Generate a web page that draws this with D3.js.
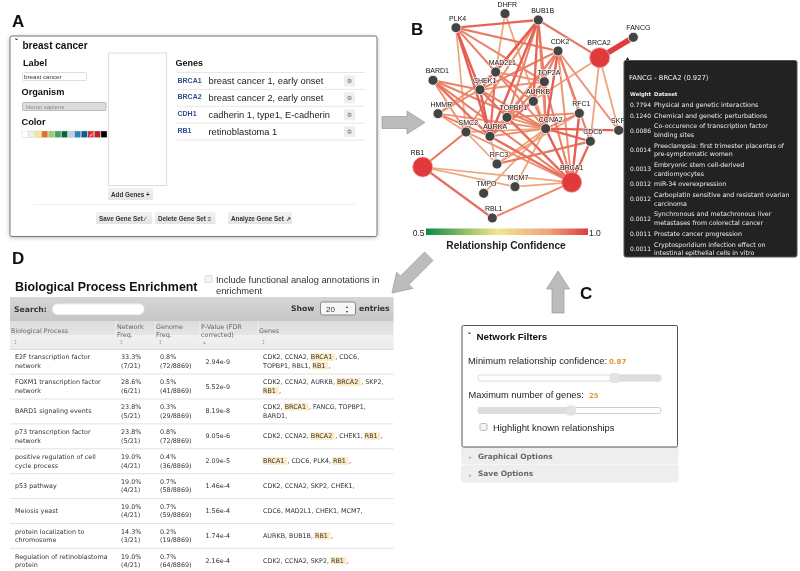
<!DOCTYPE html>
<html>
<head>
<meta charset="utf-8">
<script src="https://cdn.jsdelivr.net/npm/d3@7"></script>
<style>
  html, body { margin: 0; padding: 0; background: #fff; }
  svg { display: block; filter: blur(0.3px); }
  text { font-family: "Liberation Sans", Arial, sans-serif; fill: #111; }
</style>
</head>
<body>
<svg id="fig" width="800" height="571"></svg>
<script>
// ---- data ----
const geneNames = ["PLK4","DHFR","BUB1B","FANCG","CDK2","BRCA2","MAD2L1","TOP2A","BARD1","CHEK1","AURKB","HMMR","TOPBP1","RFC1","SMC2","AURKA","CCNA2","SKP2","CDC6","RFC3","RB1","BRCA1","MCM7","TMPO","RBL1"];
// network layout position of each gene, in layout units
const geneX = [168,315,415,700,474,599,287,433,99,240,400,114,321,538,198,270,437,656,571,291,68,515,345,251,277];
const geneY = [83,41,60,112,153,173,216,245,241,269,304,341,352,340,396,409,386,391,424,492,501,547,560,580,654];
const labelShift = [5,7,13,15,6,-2,20,14,13,14,14,10,19,6,7,15,15,4,7,6,-16,0,9,8,4];
const queryGenes = ["BRCA1","BRCA2","RB1"];

// source, target, confidence
const edges = [
  ["PLK4","BUB1B",.95],["PLK4","CDK2",.93],["PLK4","CHEK1",.96],["PLK4","AURKA",.96],["PLK4","SMC2",.87],["PLK4","TOP2A",.91],["PLK4","MAD2L1",.92],
  ["DHFR","MAD2L1",.87],["DHFR","CCNA2",.88],
  ["BUB1B","BRCA2",.93],["BUB1B","CHEK1",.94],["BUB1B","AURKA",.96],["BUB1B","MAD2L1",.96],["BUB1B","AURKB",.95],["BUB1B","TOP2A",.93],["BUB1B","SMC2",.9],["BUB1B","TOPBP1",.92],["BUB1B","CCNA2",.9],
  ["CDK2","CHEK1",.92],["CDK2","TOPBP1",.92],["CDK2","CCNA2",.96],["CDK2","RFC1",.92],["CDK2","CDC6",.92],["CDK2","BRCA1",.9],["CDK2","AURKA",.9],["CDK2","SKP2",.9],["CDK2","AURKB",.92],
  ["BRCA2","FANCG",1.0],["BRCA2","SKP2",.88],["BRCA2","CDC6",.88],["BRCA2","TOPBP1",.88],
  ["BARD1","AURKA",.94],["BARD1","CCNA2",.92],["BARD1","CHEK1",.92],["BARD1","SMC2",.9],["BARD1","BRCA1",.92],
  ["HMMR","CHEK1",.9],["HMMR","AURKA",.92],["HMMR","MAD2L1",.9],["HMMR","SMC2",.88],["HMMR","CCNA2",.9],
  ["RB1","SMC2",.93],["RB1","RBL1",.94],["RB1","MCM7",.88],["RB1","BRCA1",.87],
  ["RBL1","BRCA1",.91],["TMPO","CCNA2",.88],["MCM7","BRCA1",.87],["MCM7","CCNA2",.88],
  ["RFC3","CDC6",.93],["RFC3","CCNA2",.88],["RFC3","AURKA",.88],["SMC2","RFC3",.88],["RFC3","RFC1",.88],
  ["BRCA1","CCNA2",.96],["BRCA1","CDC6",.95],["BRCA1","RFC1",.96],["BRCA1","AURKA",.94],["BRCA1","CHEK1",.94],["BRCA1","TOP2A",.92],["BRCA1","TOPBP1",.92],["BRCA1","SMC2",.9],
  ["CCNA2","SKP2",.96],["CCNA2","RFC1",.92],["CCNA2","CDC6",.95],["CCNA2","AURKA",.9],["CCNA2","SMC2",.88],["CCNA2","TOPBP1",.9],["CCNA2","TOP2A",.92],["CCNA2","AURKB",.92],
  ["TOPBP1","RFC1",.91],["TOPBP1","AURKA",.9],["MAD2L1","AURKA",.94],["MAD2L1","CCNA2",.91],["MAD2L1","TOP2A",.9],["MAD2L1","AURKB",.92],
  ["AURKB","AURKA",.94],["CHEK1","AURKA",.96],["CHEK1","CCNA2",.92],["CHEK1","TOP2A",.9],["TOP2A","AURKA",.92]
];

const confidenceStops = [0.5, 0.62, 0.72, 0.88, 1.0];
const confidenceColors = ["#078a4c", "#8fbf63", "#f1e68d", "#f0a27a", "#de3c3e"];

const tooltipTitle = "FANCG - BRCA2 (0.927)";
const tooltipWeights = ["0.7794","0.1240","0.0086","0.0014","0.0013","0.0012","0.0012","0.0012","0.0011","0.0011"];
const tooltipDatasets = [
  ["Physical and genetic interactions"],
  ["Chemical and genetic perturbations"],
  ["Co-occurence of transcription factor","binding sites"],
  ["Preeclampsia: first trimester placentas of","pre-symptomatic women"],
  ["Embryonic stem cell-derived","cardiomyocytes"],
  ["miR-34 overexpression"],
  ["Carboplatin sensitive and resistant ovarian","carcinoma"],
  ["Synchronous and metachronous liver","metastases from colorectal cancer"],
  ["Prostate cancer progression"],
  ["Cryptosporidium infection effect on","intestinal epithelial cells in vitro"]
];

const inputGeneSymbols = ["BRCA1","BRCA2","CDH1","RB1"];
const inputGeneNames = ["breast cancer 1, early onset","breast cancer 2, early onset","cadherin 1, type1, E-cadherin","retinoblastoma 1"];
const swatchColors = ["#ffffff","#eeeeee","#f2e88e","#e0702e","#a9c377","#41a262","#06683a","#b5d2e8","#2b83ba","#115a99","#d93036","#b9222c","#000000"];

const columnNames = [["Biological Process"],["Network","Freq."],["Genome","Freq."],["P-Value (FDR","corrected)"],["Genes"]];
const processNames = [
  ["E2F transcription factor","network"],["FOXM1 transcription factor","network"],["BARD1 signaling events"],
  ["p73 transcription factor","network"],["positive regulation of cell","cycle process"],["p53 pathway"],
  ["Meiosis yeast"],["protein localization to","chromosome"],["Regulation of retinoblastoma","protein"]];
const networkFreq = [["33.3%","(7/21)"],["28.6%","(6/21)"],["23.8%","(5/21)"],["23.8%","(5/21)"],["19.0%","(4/21)"],["19.0%","(4/21)"],["19.0%","(4/21)"],["14.3%","(3/21)"],["19.0%","(4/21)"]];
const genomeFreq = [["0.8%","(72/8869)"],["0.5%","(41/8869)"],["0.3%","(29/8869)"],["0.8%","(72/8869)"],["0.4%","(36/8869)"],["0.7%","(58/8869)"],["0.7%","(59/8869)"],["0.2%","(19/8869)"],["0.7%","(64/8869)"]];
const pValues = ["2.94e-9","5.52e-9","8.19e-8","9.05e-6","2.09e-5","1.46e-4","1.56e-4","1.74e-4","2.16e-4"];
const rowGenes = [
  [["CDK2","CCNA2","BRCA1","CDC6"],["TOPBP1","RBL1","RB1"]],
  [["CDK2","CCNA2","AURKB","BRCA2","SKP2"],["RB1"]],
  [["CDK2","BRCA1","FANCG","TOPBP1"],["BARD1"]],
  [["CDK2","CCNA2","BRCA2","CHEK1","RB1"]],
  [["BRCA1","CDC6","PLK4","RB1"]],
  [["CDK2","CCNA2","SKP2","CHEK1"]],
  [["CDC6","MAD2L1","CHEK1","MCM7"]],
  [["AURKB","BUB1B","RB1"]],
  [["CDK2","CCNA2","SKP2","RB1"]]
];

const minConfidence = 0.87;
const maxGenes = 25;

// ---- setup ----
const svg = d3.select("#fig");
const defs = svg.append("defs");

function addGradient(id, stops) {
  const g = defs.append("linearGradient").attr("id", id)
    .attr("x1", 0).attr("y1", 0).attr("x2", 0).attr("y2", 1);
  stops.forEach(s => g.append("stop").attr("offset", s[0]).attr("stop-color", s[1]));
}
addGradient("toolbar", [[0, "#d6d6d6"], [1, "#c6c6c6"]]);
addGradient("head", [[0, "#dcdcdc"], [.5, "#e6e6e6"], [.5, "#f1f1f1"], [1, "#ececec"]]);
addGradient("btn", [[0, "#f2f2f2"], [1, "#e4e4e4"]]);

const shadow = defs.append("filter").attr("id", "shadow")
  .attr("x", "-5%").attr("y", "-5%").attr("width", "110%").attr("height", "112%");
shadow.append("feDropShadow").attr("dx", 0).attr("dy", 1).attr("stdDeviation", 2).attr("flood-color", "#000").attr("flood-opacity", .25);

function rect(parent, x, y, w, h, fill, stroke, r) {
  return parent.append("rect").attr("x", x).attr("y", y).attr("width", w).attr("height", h)
    .attr("fill", fill).attr("stroke", stroke || "none").attr("rx", r || 0);
}
function text(parent, x, y, s, size, opts) {
  opts = opts || {};
  return parent.append("text").attr("x", x).attr("y", y).text(s)
    .attr("font-size", size)
    .attr("font-weight", opts.bold ? "bold" : null)
    .attr("text-anchor", opts.anchor || "start")
    .style("fill", opts.fill || null)
    .style("font-family", opts.verd ? '"DejaVu Sans", sans-serif' : null);
}
function hline(parent, x1, x2, y, color) {
  parent.append("line").attr("x1", x1).attr("x2", x2).attr("y1", y).attr("y2", y).attr("stroke", color);
}
function arrow(tipX, tipY, angle, length) {
  // block arrow pointing along +x, tip at the origin
  const pts = [[0,0],[-18,-11.5],[-18,-6],[-length,-6],[-length,6],[-18,6],[-18,11.5]];
  svg.append("polygon").attr("points", pts.join(" "))
    .attr("transform", `translate(${tipX},${tipY}) rotate(${angle})`)
    .attr("fill", "#bcbcbc").attr("stroke", "#9a9a9a").attr("stroke-width", .7);
}

// panel letters and arrows
[["A",12,27],["B",411,35],["C",580,299],["D",12,264]].forEach(d =>
  text(svg, d[1], d[2], d[0], 17, {bold: true}));
arrow(425, 122.5, 0, 43);
arrow(558, 271, -90, 42);
arrow(392, 293, 135, 52);

// ---- A: gene set editor ----
function drawPanelA() {
  const g = svg.append("g");
  rect(g, 10, 36, 367, 200.5, "#fff", "#777", 2).attr("stroke-width", 1).attr("filter", "url(#shadow)");
  text(g, 15, 43.5, "\u02C7", 8, {bold: true});
  text(g, 22.5, 49, "breast cancer", 10, {bold: true});
  text(g, 23, 66, "Label", 9.2, {bold: true});
  rect(g, 22.5, 72.5, 64, 8, "#fff", "#ddd", 1);
  text(g, 24, 79, "breast cancer", 6.2, {fill: "#333"});
  text(g, 21.5, 95, "Organism", 9.2, {bold: true});
  rect(g, 22.5, 102.5, 83.5, 8, "#dcdcdc", "#bbb", 1);
  text(g, 26, 108.5, "Homo sapiens", 6, {fill: "#888"});
  text(g, 21.5, 125, "Color", 9.2, {bold: true});
  const swatch = d3.scaleBand().domain(d3.range(swatchColors.length)).range([22, 107]).paddingInner(.08);
  g.selectAll(".swatch").data(swatchColors).enter().append("rect").attr("class", "swatch")
    .attr("x", (d, i) => swatch(i)).attr("y", 131).attr("width", swatch.bandwidth()).attr("height", 6.5)
    .attr("fill", d => d).attr("stroke", "#ccc").attr("stroke-width", .4);
  text(g, swatch(10) + 1, 137, "\u2713", 5.5, {fill: "#fff"});

  rect(g, 108.5, 53, 58, 132.5, "#fff", "#ddd");
  rect(g, 108, 188, 45, 12, "url(#btn)");
  text(g, 111, 196.5, "Add Genes +", 6.3, {bold: true, fill: "#333"});

  text(g, 175.5, 66, "Genes", 9, {bold: true});
  const rowY = d3.scalePoint().domain(d3.range(inputGeneSymbols.length + 1)).range([72.5, 140]);
  rowY.domain().forEach(i => hline(g, 177, 365, rowY(i), "#e6e6e6"));
  inputGeneSymbols.forEach((s, i) => {
    const mid = rowY(i) + 8.5;
    text(g, 177.5, mid + 1.5 , s, 7, {bold: true, fill: "#2f4d8f"});
    text(g, 208.5, mid + 3, inputGeneNames[i], 9.3, {fill: "#222"});
    rect(g, 344, mid - 5.5, 11, 11, "#eee");
    g.append("circle").attr("cx", 349.5).attr("cy", mid).attr("r", 2.2).attr("fill", "#999");
    hline(g, 347.8, 351.2, mid, "#ddd");
  });

  hline(g, 33, 355, 204.5, "#eee");
  [[96, 56, "Save Gene Set \u2215"], [155, 60.5, "Delete Gene Set \u2261"], [228, 64, "Analyze Gene Set \u2197"]].forEach(b => {
    rect(g, b[0], 212, b[1], 12, "url(#btn)");
    text(g, b[0] + 3, 220.5, b[2], 6.3, {bold: true, fill: "#333"});
  });
}

// ---- B: gene network ----
function drawNetwork() {
  const g = svg.append("g");
  const px = d3.scaleLinear().domain([0, 720]).range([400, 640]);
  const py = d3.scaleLinear().domain([0, 780]).range([0, 260]);
  const color = d3.scaleLinear().domain(confidenceStops).range(confidenceColors);
  const width = d3.scaleLinear().domain([0.87, 0.96, 1.0]).range([1.7, 2.4, 5.5]);
  const idx = new Map(geneNames.map((n, i) => [n, i]));

  g.selectAll(".link").data(edges.slice().sort((a, b) => a[2] - b[2])).enter().append("line")
    .attr("class", "link")
    .attr("x1", d => px(geneX[idx.get(d[0])])).attr("y1", d => py(geneY[idx.get(d[0])]))
    .attr("x2", d => px(geneX[idx.get(d[1])])).attr("y2", d => py(geneY[idx.get(d[1])]))
    .attr("stroke", d => color(d[2])).attr("stroke-width", d => width(d[2]));

  const node = g.selectAll(".node").data(geneNames).enter().append("g").attr("class", "node")
    .attr("transform", (d, i) => `translate(${px(geneX[i])},${py(geneY[i])})`);
  node.append("circle")
    .attr("r", d => queryGenes.includes(d) ? 10 : 5)
    .attr("fill", d => queryGenes.includes(d) ? "#e13a3c" : "#444")
    .attr("stroke", d => queryGenes.includes(d) ? "#f0a0a0" : "#fff")
    .attr("stroke-width", .8);
  const nodeLabels = node.append("text")
    .attr("x", (d, i) => labelShift[i] / 3)
    .attr("y", d => queryGenes.includes(d) ? -12.5 : -7)
    .attr("text-anchor", "middle").attr("font-size", 7)
    .text(d => d);
  nodeLabels.clone(true).lower().style("fill", "#fff").attr("stroke", "#fff").attr("stroke-width", 1.3).attr("opacity", .8);
  node.selectAll("circle").lower();

  // confidence colour bar
  const bar = d3.scaleLinear().domain([0.5, 1.0]).range([426, 588]);
  const stopsGrad = defs.append("linearGradient").attr("id", "conf");
  confidenceStops.forEach((s, i) =>
    stopsGrad.append("stop").attr("offset", (bar(s) - bar(0.5)) / (bar(1) - bar(0.5))).attr("stop-color", confidenceColors[i]));
  rect(g, bar(0.5), 228.5, bar(1) - bar(0.5), 6.5, "url(#conf)");
  text(g, bar(0.5) - 1.5, 236, "0.5", 8.5, {anchor: "end", fill: "#222"});
  text(g, bar(1) + 1, 236, "1.0", 8.5, {fill: "#222"});
  text(g, 506, 249, "Relationship Confidence", 10.2, {bold: true, anchor: "middle", fill: "#222"});
}

// tooltip sits on top of the network
function drawTooltip() {
  const g = svg.append("g");
  g.append("path").attr("d", "M624,63 L627.5,57 L631,63 Z").attr("fill", "#222");
  rect(g, 624, 60.5, 173, 196.5, "#222", "#555", 2);
  const light = "#eee";
  text(g, 629, 79.5, tooltipTitle, 6.8, {fill: light, verd: true});
  text(g, 630, 96, "Weight", 5.3, {bold: true, fill: light, verd: true});
  text(g, 654, 96, "Dataset", 5.3, {bold: true, fill: light, verd: true});
  let y = 99.5;
  tooltipWeights.forEach((w, i) => {
    const lines = tooltipDatasets[i];
    const h = lines.length * 8.6 + 2;
    const mid = y + h / 2;
    text(g, 630, mid + 2, w, 6, {fill: light, verd: true});
    lines.forEach((l, j) =>
      text(g, 654, mid + 2 + (j - (lines.length - 1) / 2) * 8.6, l, 6.3, {fill: light, verd: true}));
    y += h + .15;
  });
}

// ---- C: network filters ----
function drawPanelC() {
  const g = svg.append("g");
  [[461, 447, 17, "Graphical Options"], [461, 464.5, 18, "Save Options"]].forEach(b => {
    rect(g, b[0], b[1], 217.5, b[2], "#eeeeee", null, 3);
    text(g, 469, b[1] + 12, "\u25B8", 5, {fill: "#aaa"});
    text(g, 478, b[1] + 11.5, b[3], 7.4, {bold: true, fill: "#666", verd: true});
  });
  rect(g, 462, 325.5, 215.5, 121.5, "#fff", "#555", 1.5);
  text(g, 468, 338, "\u02C7", 8, {bold: true});
  text(g, 476.5, 339.5, "Network Filters", 9.8, {bold: true});
  text(g, 468, 364, "Minimum relationship confidence:", 9.4, {fill: "#222"});
  text(g, 609, 364, minConfidence.toFixed(2), 7, {bold: true, fill: "#e8973a", verd: true});
  text(g, 468.5, 397.5, "Maximum number of genes:", 9.3, {fill: "#222"});
  text(g, 589, 397.5, String(maxGenes), 7, {bold: true, fill: "#e8973a", verd: true});

  const confSlider = d3.scaleLinear().domain([0.5, 1.0]).range([478, 661]);
  rect(g, 478, 375, 183, 6, "#fff", "#ddd", 2.5);
  rect(g, confSlider(minConfidence), 375, 661 - confSlider(minConfidence), 6, "#dddddd", "#ddd", 2.5);
  rect(g, confSlider(minConfidence) - 3.5, 373.5, 9, 9, "#e3e3e3", "#e3e3e3", 2);

  const geneSlider = d3.scaleLinear().domain([0, 50]).range([478, 661]);
  rect(g, 478, 407.5, 183, 6, "#fff", "#ccc", 2.5);
  rect(g, 478, 407.5, geneSlider(maxGenes) - 478, 6, "#dddddd", "#ddd", 2.5);
  rect(g, geneSlider(maxGenes) - 3, 406, 9, 9, "#e3e3e3", "#e3e3e3", 2);

  rect(g, 480, 423.5, 7, 7, "#f4f4f4", "#bbb", 1.5);
  text(g, 493, 430.5, "Highlight known relationships", 9.4, {fill: "#222"});
}

// ---- D: enrichment table ----
function drawTable() {
  const g = svg.append("g");
  text(g, 15, 291, "Biological Process Enrichment", 12.4, {bold: true});
  rect(g, 205, 275.5, 7, 7, "#f4f4f4", "#ddd", 1);
  text(g, 216, 282.5, "Include functional analog annotations in", 9.3, {fill: "#333"});
  text(g, 216, 293.5, "enrichment", 9.3, {fill: "#333"});

  rect(g, 10, 297, 383.5, 24, "url(#toolbar)");
  text(g, 14, 311.5, "Search:", 7.7, {bold: true, fill: "#333", verd: true});
  rect(g, 52.5, 304, 91.5, 10.5, "#fff", "#eee", 5);
  text(g, 291, 310.5, "Show", 7.7, {bold: true, fill: "#333", verd: true});
  rect(g, 320.5, 302, 35, 13, "#f6f6f6", "#888", 2);
  text(g, 326, 311.5, "20", 8, {fill: "#333"});
  text(g, 346, 308, "\u25B4", 4, {fill: "#333"});
  text(g, 346, 312.5, "\u25BE", 4, {fill: "#333"});
  text(g, 359, 310.5, "entries", 7.7, {bold: true, fill: "#333", verd: true});

  const colX = [11, 116, 155, 200, 258, 393.5];
  const cellX = [15, 121, 160, 205.5, 263];
  rect(g, 10, 321, 383.5, 28, "url(#head)");
  hline(g, 10, 393.5, 349.5, "#ddd");
  columnNames.forEach((c, i) => {
    const n = c.length;
    c.forEach((l, j) => text(g, colX[i] + (i ? 1 : 0), (n === 1 ? 332.5 : 328.5) + j * 8.7, l, 6.4, {fill: "#666", verd: true}));
    text(g, colX[i] + (i ? 3 : 2), 344, i === 3 ? "\u25B4" : "\u2195", 5.5, {fill: "#aaa", verd: true});
    if (i) g.append("line").attr("x1", colX[i]).attr("x2", colX[i]).attr("y1", 321).attr("y2", 349).attr("stroke", "#eee");
  });

  const rowMid = d3.scaleLinear().domain([0, 8]).range([361.6, 560.8]);
  const lineGap = 8.6;
  const cellSize = 6.4;
  const cellLines = (x, mid, lines) => lines.forEach((l, j) =>
    text(g, x, mid + 2 + (j - (lines.length - 1) / 2) * lineGap, l, cellSize, {fill: "#333", verd: true}));

  pValues.forEach((p, i) => {
    const mid = rowMid(i);
    if (i) hline(g, 10, 393.5, mid - 12.4, "#e2e2e2");
    cellLines(cellX[0], mid, processNames[i]);
    cellLines(cellX[1], mid, networkFreq[i]);
    cellLines(cellX[2], mid, genomeFreq[i]);
    cellLines(cellX[3], mid, [p]);
    rowGenes[i].forEach((genes, j) => {
      const y = mid + 2 + (j - (rowGenes[i].length - 1) / 2) * lineGap;
      let x = cellX[4];
      genes.forEach(gene => {
        const isQuery = queryGenes.includes(gene);
        const t = text(g, x, y, gene, cellSize, {fill: "#333", verd: true});
        const w = t.node().getComputedTextLength();
        if (isQuery) {
          rect(g, x - .5, y - 6, w + 3, 7.6, "#fdeac4");
          t.raise();
          text(g, x + w + 3, y, ",", cellSize, {fill: "#333", verd: true});
          x += w + 7;
        } else {
          text(g, x + w, y, ",", cellSize, {fill: "#333", verd: true});
          x += w + 4;
        }
      });
    });
  });
}

drawPanelA();
drawNetwork();
drawTooltip();
drawPanelC();
drawTable();
</script>
</body>
</html>
